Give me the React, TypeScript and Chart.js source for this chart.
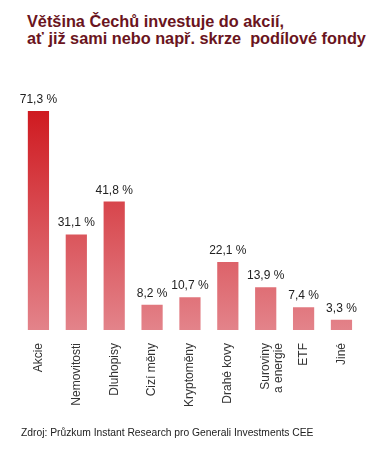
import React, { useEffect, useRef } from "react";
import { Chart, registerables } from "chart.js";

Chart.register(...registerables);

const categories: (string | string[])[] = [
  "Akcie",
  "Nemovitosti",
  "Dluhopisy",
  "Cizí měny",
  "Kryptoměny",
  "Drahé kovy",
  ["Suroviny", "a energie"],
  "ETF",
  "Jiné",
];
const values: number[] = [71.3, 31.1, 41.8, 8.2, 10.7, 22.1, 13.9, 7.4, 3.3];
const titleLines: string[] = [
  "Většina Čechů investuje do akcií,",
  "ať již sami nebo např. skrze\u00a0 podílové fondy",
];
const sourceText = "Zdroj: Průzkum Instant Research pro Generali Investments CEE";

const FONT = "'Liberation Sans', Arial, sans-serif";

const fmt = (v: number) => v.toFixed(1).replace(".", ",") + " %";

const valueLabels = {
  id: "valueLabels",
  afterDatasetsDraw(chart: any) {
    const ctx = chart.ctx;
    const meta = chart.getDatasetMeta(0);
    ctx.save();
    ctx.font = `12px ${FONT}`;
    ctx.fillStyle = "#222222";
    ctx.textAlign = "center";
    ctx.textBaseline = "alphabetic";
    meta.data.forEach((bar: any, i: number) => {
      ctx.fillText(fmt(values[i]), bar.x, bar.y - 8);
    });
    ctx.restore();
  },
};

export default function App() {
  const ref = useRef<HTMLCanvasElement | null>(null);

  useEffect(() => {
    if (!ref.current) return;
    const chart = new Chart(ref.current, {
      type: "bar",
      data: {
        labels: categories,
        datasets: [
          {
            data: values,
            backgroundColor: (c: any) => {
              const area = c.chart.chartArea;
              if (!area) return "#d9474c";
              const g = c.chart.ctx.createLinearGradient(0, area.top, 0, area.bottom);
              g.addColorStop(0, "#cf1a20");
              g.addColorStop(1, "#e3838a");
              return g;
            },
            borderWidth: 0,
            barPercentage: 0.56,
            categoryPercentage: 1,
          },
        ],
      },
      options: {
        responsive: false,
        animation: false,
        devicePixelRatio: 1,
        layout: { padding: { top: 111, left: 19.5, right: 24.6, bottom: 26 } },
        plugins: {
          legend: { display: false },
          tooltip: { enabled: false },
          title: { display: false },
        },
        scales: {
          x: {
            grid: { display: false, drawTicks: false },
            border: { display: false },
            ticks: {
              autoSkip: false,
              minRotation: 90,
              maxRotation: 90,
              padding: 13,
              color: "#333333",
              font: { family: FONT, size: 12, lineHeight: 1.1 },
            },
            afterFit: (scale: any) => {
              scale.height = 100;
            },
          },
          y: {
            display: false,
            min: 0,
            max: Math.max(...values),
          },
        },
      },
      plugins: [valueLabels],
    });
    return () => chart.destroy();
  }, []);

  return (
    <div style={{ position: "absolute", left: 0, top: 0, width: 385, height: 456, background: "#fff" }}>
      <div
        style={{
          position: "absolute",
          left: 27,
          top: 13,
          fontFamily: FONT,
          fontWeight: "bold",
          fontSize: 16.3,
          lineHeight: "17px",
          color: "#6a1420",
          whiteSpace: "pre",
        }}
      >
        {titleLines.map((l, i) => (
          <div key={i}>{l}</div>
        ))}
      </div>
      <canvas
        ref={ref}
        width={385}
        height={456}
        style={{ position: "absolute", left: 0, top: 0, width: 385, height: 456 }}
      />
      <div
        style={{
          position: "absolute",
          left: 21,
          top: 426,
          fontFamily: FONT,
          fontSize: 10.3,
          lineHeight: "13px",
          color: "#222222",
          whiteSpace: "nowrap",
        }}
      >
        {sourceText}
      </div>
    </div>
  );
}
